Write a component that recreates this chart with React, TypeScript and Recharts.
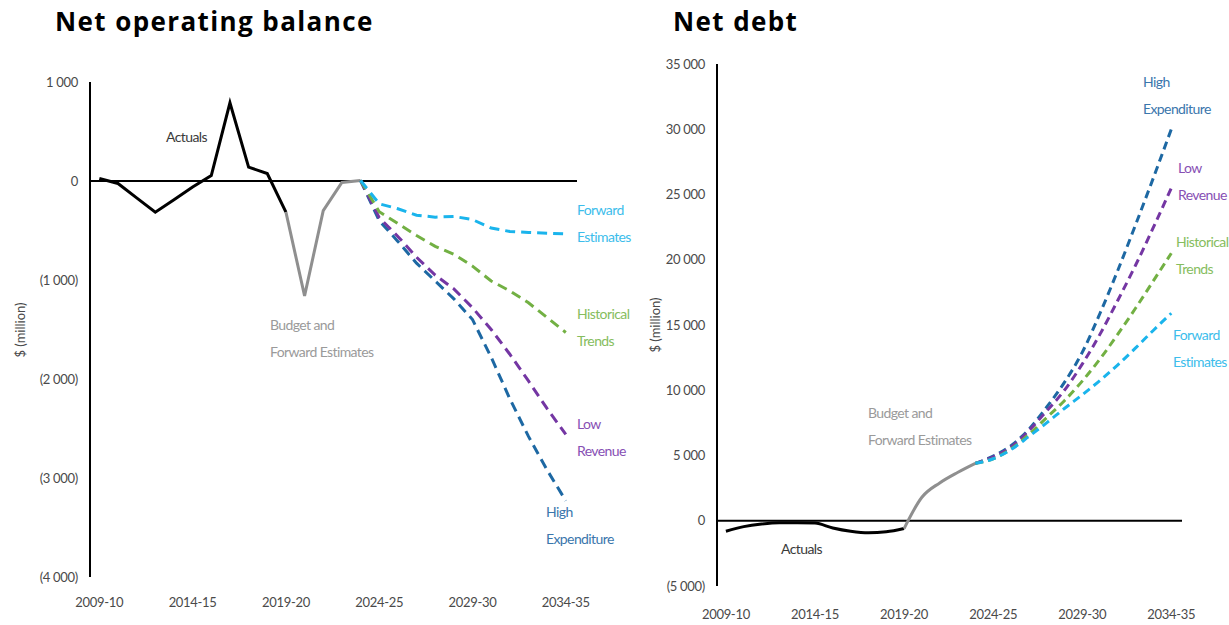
import React from 'react';
import { LineChart, Line, XAxis, YAxis, ReferenceLine } from 'recharts';

// ---------- categories ----------
const years = [
  '2009-10', '2010-11', '2011-12', '2012-13', '2013-14', '2014-15', '2015-16', '2016-17',
  '2017-18', '2018-19', '2019-20', '2020-21', '2021-22', '2022-23', '2023-24', '2024-25',
  '2025-26', '2026-27', '2027-28', '2028-29', '2029-30', '2030-31', '2031-32', '2032-33',
  '2033-34', '2034-35',
];
const xTicks = [0, 5, 10, 15, 20, 25];
const actualStart = 0;   // 2009-10
const budgetStart = 10;  // 2019-20
const projStart = 14;    // 2023-24

// ---------- Net operating balance ($m) ----------
const nobActuals = [25, -25, -170, -315, -190, -60, 55, 790, 140, 75, -315];
const nobBudget = [-315, -1160, -300, -15, 5];
const nobForward = [5, -230, -280, -345, -365, -358, -390, -475, -510, -520, -528, -535];
const nobHistorical = [5, -310, -430, -550, -660, -740, -860, -1010, -1110, -1230, -1380, -1530];
const nobLowRevenue = [5, -370, -560, -770, -950, -1090, -1280, -1500, -1750, -2020, -2300, -2560];
const nobHighExp = [5, -400, -610, -830, -1010, -1190, -1400, -1780, -2200, -2580, -2920, -3230];
const nobTicks = [1000, 0, -1000, -2000, -3000, -4000];

// ---------- Net debt ($m) ----------
const ndActuals = [-800, -450, -250, -150, -150, -180, -550, -800, -920, -850, -600];
const ndBudget = [-600, 1800, 2900, 3700, 4400];
const ndForward = [4400, 4750, 5450, 6450, 7500, 8600, 9650, 10750, 11950, 13250, 14600, 15900];
const ndHistorical = [4400, 4750, 5500, 6600, 7900, 9200, 10700, 12400, 14300, 16300, 18400, 20500];
const ndLowRevenue = [4400, 4900, 5650, 6900, 8400, 10000, 12000, 14300, 16900, 19600, 22500, 25500];
const ndHighExp = [4400, 4950, 5750, 7000, 8700, 10600, 12900, 15900, 19200, 22700, 26300, 30000];
const ndTicks = [35000, 30000, 25000, 20000, 15000, 10000, 5000, 0, -5000];

// ---------- colours ----------
const C = {
  actual: '#000000',
  budget: '#8F8F8F',
  forward: '#1AB4EC',
  historical: '#72B043',
  low: '#7436A3',
  high: '#1D68A3',
};
const T = {
  actual: '#3a3a3a',
  budget: '#9a9a9a',
  forward: '#3CBDEB',
  historical: '#86BD5E',
  low: '#8750B4',
  high: '#3A76AC',
};

function buildRows(a: number[], b: number[], f: number[], h: number[], l: number[], e: number[]) {
  return years.map((_, i) => ({
    i,
    actual: i >= actualStart && i < actualStart + a.length ? a[i - actualStart] : null,
    budget: i >= budgetStart && i < budgetStart + b.length ? b[i - budgetStart] : null,
    forward: i >= projStart && i < projStart + f.length ? f[i - projStart] : null,
    historical: i >= projStart && i < projStart + h.length ? h[i - projStart] : null,
    low: i >= projStart && i < projStart + l.length ? l[i - projStart] : null,
    high: i >= projStart && i < projStart + e.length ? e[i - projStart] : null,
  }));
}

const nobRows = buildRows(nobActuals, nobBudget, nobForward, nobHistorical, nobLowRevenue, nobHighExp);
const ndRows = buildRows(ndActuals, ndBudget, ndForward, ndHistorical, ndLowRevenue, ndHighExp);

const thousands = (v: number) => {
  const s = String(Math.abs(v));
  return s.replace(/\B(?=(\d{3})+(?!\d))/g, ' ');
};
const yFmt = (v: number) => (v < 0 ? `(${thousands(v)})` : thousands(v));

const FONT = 'Lato, "Open Sans", sans-serif';
const tickStyle = { fontFamily: FONT, fontSize: 13, fill: '#4a4a4a', letterSpacing: -0.3 };

type ChartProps = {
  rows: any[];
  width: number;
  height: number;
  margin: any;
  domain: [number, number];
  ticks: number[];
  curve: 'linear' | 'monotone';
  dash: string;
  xTickMargin: number;
};

function Panel({ rows, width, height, margin, domain, ticks, curve, dash, xTickMargin }: ChartProps) {
  return (
    <LineChart width={width} height={height} data={rows} margin={margin}>
      <XAxis
        dataKey="i"
        type="number"
        domain={[-0.5, 25.6]}
        ticks={xTicks}
        tickFormatter={(v: number) => years[v]}
        axisLine={false}
        tickLine={false}
        tickSize={0}
        tickMargin={xTickMargin}
        height={30}
        tick={tickStyle}
        interval={0}
        allowDataOverflow
      />
      <YAxis
        type="number"
        domain={domain}
        ticks={ticks}
        tickFormatter={yFmt}
        axisLine={{ stroke: '#000', strokeWidth: 2 }}
        tickLine={false}
        tickSize={0}
        tickMargin={12}
        width={60}
        tick={tickStyle}
        interval={0}
        allowDataOverflow
      />
      <ReferenceLine y={0} stroke="#000" strokeWidth={2} />
      <Line type={curve} dataKey="actual" stroke={C.actual} strokeWidth={3} dot={false} isAnimationActive={false} connectNulls={false} />
      <Line type={curve} dataKey="budget" stroke={C.budget} strokeWidth={3} dot={false} isAnimationActive={false} />
      <Line type={curve} dataKey="high" stroke={C.high} strokeWidth={3} strokeDasharray={dash} dot={false} isAnimationActive={false} />
      <Line type={curve} dataKey="low" stroke={C.low} strokeWidth={3} strokeDasharray={dash} dot={false} isAnimationActive={false} />
      <Line type={curve} dataKey="historical" stroke={C.historical} strokeWidth={3} strokeDasharray={dash} dot={false} isAnimationActive={false} />
      <Line type={curve} dataKey="forward" stroke={C.forward} strokeWidth={3} strokeDasharray={dash} dot={false} isAnimationActive={false} />
    </LineChart>
  );
}

type Note = { lines: string[]; x: number; y: number; color: string };

const leftNotes: Note[] = [
  { lines: ['Actuals'], x: 166, y: 137, color: T.actual },
  { lines: ['Budget and', 'Forward Estimates'], x: 270, y: 325, color: T.budget },
  { lines: ['Forward', 'Estimates'], x: 577, y: 210, color: T.forward },
  { lines: ['Historical', 'Trends'], x: 577, y: 314, color: T.historical },
  { lines: ['Low', 'Revenue'], x: 577, y: 424, color: T.low },
  { lines: ['High', 'Expenditure'], x: 546, y: 512, color: T.high },
];
const rightNotes: Note[] = [
  { lines: ['Actuals'], x: 781, y: 549, color: T.actual },
  { lines: ['Budget and', 'Forward Estimates'], x: 868, y: 413, color: T.budget },
  { lines: ['High', 'Expenditure'], x: 1143, y: 82, color: T.high },
  { lines: ['Low', 'Revenue'], x: 1178, y: 168, color: T.low },
  { lines: ['Historical', 'Trends'], x: 1176, y: 242, color: T.historical },
  { lines: ['Forward', 'Estimates'], x: 1173, y: 335, color: T.forward },
];

function Notes({ notes }: { notes: Note[] }) {
  return (
    <>
      {notes.map((n, k) =>
        n.lines.map((t, j) => (
          <div
            key={`${k}-${j}`}
            style={{
              position: 'absolute',
              left: n.x,
              top: n.y - 9 + j * 27,
              fontFamily: FONT,
              fontSize: 14,
              lineHeight: '18px',
              letterSpacing: -0.6,
              color: n.color,
              whiteSpace: 'nowrap',
            }}
          >
            {t}
          </div>
        ))
      )}
    </>
  );
}

const titleStyle: React.CSSProperties = {
  position: 'absolute',
  fontFamily: '"Open Sans", "DejaVu Sans", sans-serif',
  fontWeight: 700,
  fontSize: 26,
  letterSpacing: 1.4,
  lineHeight: '30px',
  color: '#000',
  whiteSpace: 'nowrap',
};

const yLabelStyle = (x: number, y: number): React.CSSProperties => ({
  position: 'absolute',
  left: x,
  top: y,
  transform: 'translate(-50%, -50%) rotate(-90deg)',
  fontFamily: FONT,
  fontSize: 13,
  color: '#4a4a4a',
  whiteSpace: 'nowrap',
});

export default function App() {
  return (
    <div style={{ position: 'absolute', left: 0, top: 0, width: 1229, height: 625, background: '#fff', overflow: 'hidden' }}>
      <div style={{ position: 'absolute', left: 0, top: 0 }}>
        <Panel
          rows={nobRows}
          width={620}
          height={625}
          margin={{ top: 82, right: 43, bottom: 18, left: 30 }}
          domain={[-4000, 1000]}
          ticks={nobTicks}
          curve="linear"
          dash="10 6"
          xTickMargin={21}
        />
      </div>
      <div style={{ position: 'absolute', left: 620, top: 0 }}>
        <Panel
          rows={ndRows}
          width={609}
          height={625}
          margin={{ top: 64, right: 47, bottom: 9, left: 37 }}
          domain={[-5000, 35000]}
          ticks={ndTicks}
          curve="monotone"
          dash="8 5"
          xTickMargin={24}
        />
      </div>
      <div style={{ ...titleStyle, left: 55, top: 6 }}>Net operating balance</div>
      <div style={{ ...titleStyle, left: 673, top: 6 }}>Net debt</div>
      <div style={yLabelStyle(20, 330)}>$ (million)</div>
      <div style={yLabelStyle(655, 325)}>$ (million)</div>
      <Notes notes={leftNotes} />
      <Notes notes={rightNotes} />
    </div>
  );
}
